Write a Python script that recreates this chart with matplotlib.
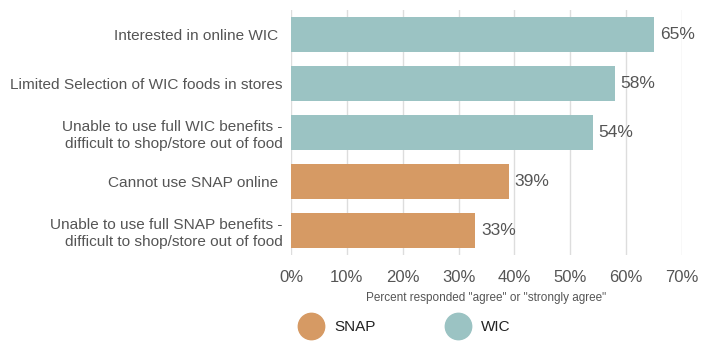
import matplotlib
matplotlib.use("Agg")
import matplotlib.pyplot as plt
from matplotlib.lines import Line2D

categories = [
    "Interested in online WIC ",
    "Limited Selection of WIC foods in stores",
    "Unable to use full WIC benefits -\ndifficult to shop/store out of food",
    "Cannot use SNAP online ",
    "Unable to use full SNAP benefits -\ndifficult to shop/store out of food",
]
values = [65, 58, 54, 39, 33]
programs = ["WIC", "WIC", "WIC", "SNAP", "SNAP"]
value_labels = ["65%", "58%", "54%", "39%", "33%"]
x_ticks = [0, 10, 20, 30, 40, 50, 60, 70]
x_ticklabels = ["0%", "10%", "20%", "30%", "40%", "50%", "60%", "70%"]
legend_items = ["SNAP", "WIC"]

colors = {"WIC": "#9BC3C3", "SNAP": "#D69A64"}
text_color = "#555555"

plt.rcParams['font.family'] = ['Liberation Sans', 'DejaVu Sans']

fig = plt.figure(figsize=(7.01, 3.41), dpi=100)
ax = fig.add_axes([291/701, (341-255)/341, (682-291)/701, (255-10)/341])

ypos = list(range(len(categories)))
ax.barh(ypos, values, height=0.71, color=[colors[p] for p in programs], zorder=3)
for y, v, lab in zip(ypos, values, value_labels):
    ax.text(v + 1.0, y, lab, va="center", ha="left", fontsize=12.5, color=text_color)

ax.set_ylim(4.5, -0.5)
ax.set_xlim(0, 70)
ax.set_yticks(ypos)
ax.set_yticklabels(categories, fontsize=11.1, color=text_color, linespacing=1.3)
ax.set_xticks(x_ticks)
ax.set_xticklabels(x_ticklabels, fontsize=12, color=text_color)
ax.tick_params(axis="y", length=0, pad=6)
ax.tick_params(axis="x", length=0, pad=11)
ax.grid(axis="x", color="#dddddd", linewidth=1, zorder=0)
for s in ax.spines.values():
    s.set_visible(False)
ax.set_xlabel('Percent responded "agree" or "strongly agree"', fontsize=8.5,
              color=text_color, labelpad=5)

handles = [Line2D([], [], marker="o", linestyle="none", markersize=19,
                  markerfacecolor=colors[k], markeredgecolor=colors[k]) for k in legend_items]
leg = fig.legend(handles, legend_items, loc="center", bbox_to_anchor=(403/701, 1 - 327/341),
                 ncol=2, frameon=False, fontsize=11, handletextpad=0.5, columnspacing=4.4)
for t in leg.get_texts():
    t.set_color("#222222")

fig.savefig("out.png", dpi=100)
